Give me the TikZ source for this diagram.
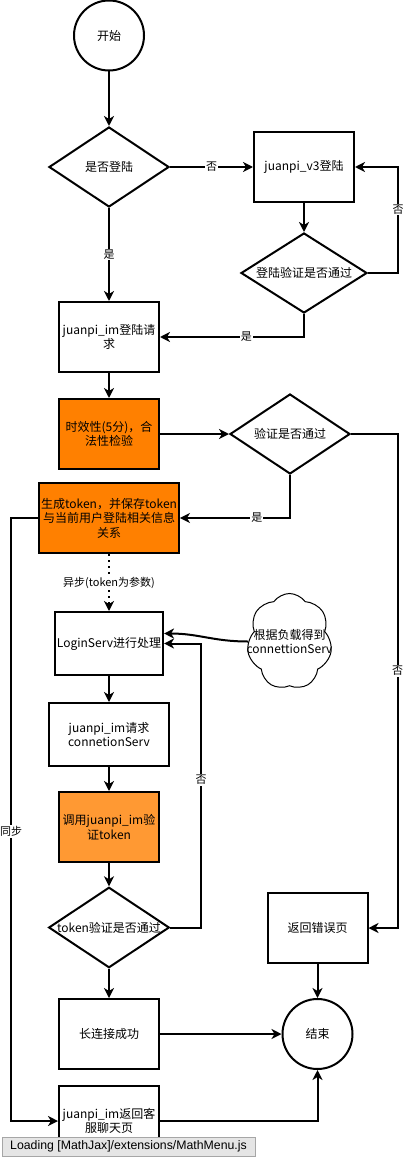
\documentclass[tikz,border=0pt]{standalone}
\usepackage{fontspec}
\setmainfont{Noto Sans CJK SC}
\newfontfamily\barfont{Liberation Sans}
\usepackage{xcolor}
\usetikzlibrary{positioning, shapes.geometric, shapes.symbols, arrows.meta}
\definecolor{deeporange}{HTML}{FF8000}
\definecolor{softorange}{HTML}{FF9933}
\tikzset{
  box/.style={draw, line width=2pt, minimum width=100pt, minimum height=70pt, align=center, inner sep=2pt, text centered},
  decision/.style={draw, diamond, line width=2pt, aspect=1.5, minimum width=120pt, minimum height=80pt, inner sep=0pt, align=center},
  terminal/.style={draw, circle, line width=2pt, minimum size=70pt},
  loadcloud/.style={draw, cloud, cloud puffs=7, cloud puff arc=110, cloud ignores aspect, line width=1pt, fill=white, minimum width=85pt, minimum height=96pt},
  flow/.style={-{Stealth[length=10pt,width=10pt,inset=3pt]}, line width=2pt},
  tag/.style={fill=white, font=\fontsize{11}{12}\selectfont, inner sep=1pt},
}

\begin{document}
\begin{tikzpicture}[x=1pt, y=1pt, font=\fontsize{12}{14.5}\selectfont]
\useasboundingbox (0,0) rectangle (408,-1158);
% nodes %
\node[terminal] (start) at (109,-35.5) {开始};
\node[decision, below of = start, node distance=131.5pt] (islogin) {是否登陆};
\node[box, right of = islogin, node distance=195pt] (v3) {juanpi\_v3登陆};
\node[decision, below of = v3, node distance=106pt, minimum width=126pt] (v3check) {登陆验证是否通过};
\node[box, below of = islogin, node distance=170pt] (imlogin) {juanpi\_im登陆请\\求};
\node[box, fill=deeporange, below of = imlogin, node distance=97pt] (expire) {时效性(5分)，合\\法性检验};
\node[decision, right of = expire, node distance=181pt] (valid) {验证是否通过};
\node[box, fill=deeporange, minimum width=136pt, below of = expire, node distance=84pt] (gentoken) {生成token，并保存token\\与当前用户登陆相关信息\\关系};
\node[box, minimum width=108pt, minimum height=63pt, below of = gentoken, node distance=125.5pt] (loginserv) {LoginServ进行处理};
\node[loadcloud, label={[align=center]center:根据负载得到\\connettionServ}] (balance) at (289.5,-641.5) {};
\node[box, minimum width=120pt, minimum height=63pt, below of = loginserv, node distance=91pt] (conreq) {juanpi\_im请求\\connetionServ};
\node[box, fill=softorange, below of = conreq, node distance=92.5pt] (verify) {调用juanpi\_im验\\证token};
\node[decision, below of = verify, node distance=100.5pt] (tokcheck) {token验证是否通过};
\node[box, below of = tokcheck, node distance=106.5pt] (longconn) {长连接成功};
\node[box, below of = longconn, node distance=87pt] (chatpage) {juanpi\_im返回客\\服聊天页};
\node[terminal, right of = longconn, node distance=208.5pt] (finish) {结束};
\node[box, above of = finish, node distance=106pt] (errpage) {返回错误页};
% edges %
\draw[flow] (start) -- (islogin);
\draw[flow] (islogin) -- node[tag] {否} (v3);
\draw[flow] (islogin) -- node[tag] {是} (imlogin);
\draw[flow] (v3) -- (v3check);
\draw[flow] (v3check.east) -| node[tag, pos=0.8] {否} ([xshift=43pt]v3.east) -- (v3.east);
\draw[flow] (v3check.south) |- node[tag, pos=0.7] {是} (imlogin.east);
\draw[flow] (imlogin) -- (expire);
\draw[flow] (expire) -- (valid);
\draw[flow] (valid.south) |- node[tag, pos=0.65] {是} (gentoken.east);
\draw[flow] (valid.east) -| node[tag, pos=0.74] {否} ([xshift=29pt]errpage.east) -- (errpage.east);
\draw[flow] (gentoken.west) -| node[tag, pos=0.76] {同步} ([xshift=-47pt]chatpage.west) -- (chatpage.west);
\draw[flow, dash pattern=on 2pt off 4pt] (gentoken) -- node[tag] {异步(token为参数)} (loginserv);
\draw[flow] (balance.west) .. controls +(-35,0) and +(35,0) .. ([yshift=10pt]loginserv.east);
\draw[flow] (loginserv) -- (conreq);
\draw[flow] (conreq) -- (verify);
\draw[flow] (verify) -- (tokcheck);
\draw[flow] (tokcheck.east) -| node[tag, pos=0.76] {否} ([xshift=37pt]loginserv.east) -- (loginserv.east);
\draw[flow] (tokcheck) -- (longconn);
\draw[flow] (longconn) -- (finish);
\draw[flow] (errpage) -- (finish);
\draw[flow] (chatpage.east) -| (finish.south);
% overlay bar %
\node[draw=gray!70, fill=gray!20, anchor=south west, minimum height=19pt, inner xsep=8pt, inner ysep=0pt, font=\barfont\fontsize{12.3}{13}\selectfont] (mathjax) at (2,-1156) {Loading [MathJax]/extensions/MathMenu.js};
\end{tikzpicture}
\end{document}
